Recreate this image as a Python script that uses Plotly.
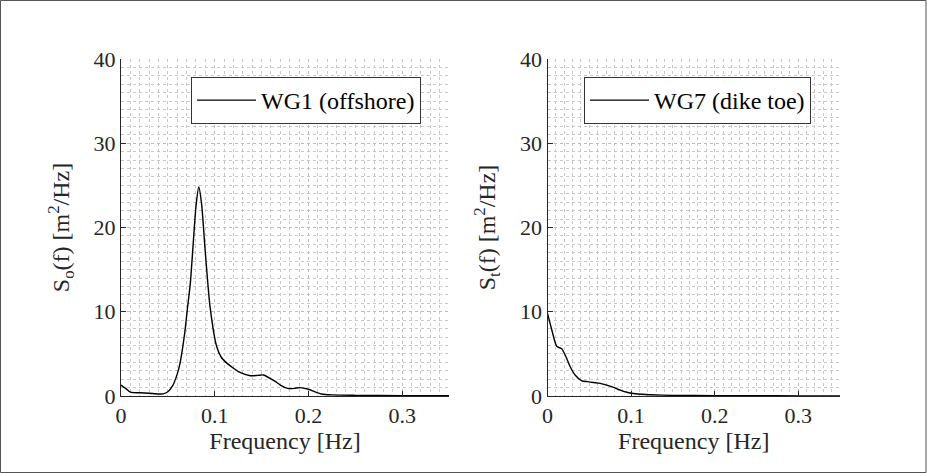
import plotly.graph_objects as go

# ---- data ----
freq_wg1 = [0, 0.005, 0.01, 0.02, 0.03, 0.04, 0.045, 0.05, 0.055, 0.06, 0.063, 0.068, 0.071,
            0.074, 0.077, 0.08, 0.083, 0.086, 0.09, 0.095, 0.102, 0.107, 0.113, 0.12, 0.127,
            0.138, 0.146, 0.152, 0.159, 0.165, 0.17, 0.178, 0.185, 0.191, 0.2, 0.207, 0.214,
            0.225, 0.25, 0.3, 0.35]
spec_wg1 = [1.3, 0.9, 0.45, 0.38, 0.32, 0.24, 0.25, 0.5, 1.2, 2.6, 3.9, 7.5, 10.5,
            13.4, 18.0, 22.5, 24.8, 22.8, 17.0, 10.6, 5.9, 4.6, 3.9, 3.3, 2.8,
            2.4, 2.45, 2.5, 2.1, 1.7, 1.3, 0.9, 0.9, 1.0, 0.8, 0.5, 0.24,
            0.13, 0.08, 0.05, 0.04]

freq_wg7 = [0, 0.005, 0.011, 0.017, 0.021, 0.027, 0.033, 0.041, 0.048, 0.055, 0.063, 0.071,
            0.08, 0.087, 0.095, 0.103, 0.113, 0.123, 0.15, 0.2, 0.25, 0.3, 0.35]
spec_wg7 = [9.8, 7.9, 5.9, 5.6, 4.9, 3.5, 2.5, 1.8, 1.7, 1.6, 1.5, 1.3,
            1.0, 0.7, 0.45, 0.3, 0.2, 0.15, 0.08, 0.04, 0.03, 0.02, 0.02]

name_wg1 = "WG1 (offshore)"
name_wg7 = "WG7 (dike toe)"
ytitle_1 = "S<sub>o</sub>(f) [m<sup>2</sup>/Hz]"
ytitle_2 = "S<sub>t</sub>(f) [m<sup>2</sup>/Hz]"
xtitle = "Frequency [Hz]"
xticks = [0, 0.1, 0.2, 0.3]
yticks = [0, 10, 20, 30, 40]

FONT = "Liberation Serif"
W, H = 927, 473
ML, MR, MT, MB = 121, 87, 59, 77
PW, PH = W - ML - MR, H - MT - MB

fig = go.Figure()
fig.add_trace(go.Scatter(x=freq_wg1, y=spec_wg1, mode="lines", name=name_wg1,
                         line=dict(color="black", width=1.4, shape="spline", smoothing=0.6),
                         xaxis="x", yaxis="y", legend="legend", showlegend=True))
fig.add_trace(go.Scatter(x=freq_wg7, y=spec_wg7, mode="lines", name=name_wg7,
                         line=dict(color="black", width=1.4, shape="spline", smoothing=0.6),
                         xaxis="x2", yaxis="y2", legend="legend2", showlegend=True))

grid = dict(showgrid=True, gridcolor="#bcbcbc", griddash="dot", gridwidth=1)
minor_x = dict(dtick=0.01, showgrid=True, gridcolor="#c8c8c8", griddash="dot", gridwidth=1, ticks="")
minor_y = dict(dtick=1, showgrid=True, gridcolor="#c8c8c8", griddash="dot", gridwidth=1, ticks="")

def xax(domain, anchor):
    return dict(domain=domain, anchor=anchor, range=[0, 0.35], tickvals=xticks,
                ticks="inside", ticklen=5, tickcolor="#262626", showline=True,
                linecolor="#262626", linewidth=1, zeroline=False, mirror=False,
                tickfont=dict(family=FONT, size=22, color="#262626"),
                title=dict(text=xtitle, font=dict(family=FONT, size=24, color="#262626"), standoff=4),
                minor=minor_x, **grid)

def yax(anchor, title):
    return dict(anchor=anchor, domain=[0, 1], range=[0, 40], tickvals=yticks,
                ticks="inside", ticklen=5, tickcolor="#262626", showline=True,
                linecolor="#262626", linewidth=1, zeroline=False, mirror=False,
                tickfont=dict(family=FONT, size=22, color="#262626"),
                title=dict(text=title, font=dict(family=FONT, size=24, color="#262626"), standoff=17),
                minor=minor_y, **grid)

d1 = [0, (449 - ML) / PW]
d2 = [(547.5 - ML) / PW, 1]

def px_x(p):
    return (p - ML) / PW

def px_y(p):
    return (H - MB - p) / PH

leg_common = dict(bgcolor="white", bordercolor="#333333", borderwidth=1,
                  font=dict(family=FONT, size=24, color="black"),
                  xanchor="left", yanchor="top", itemwidth=59)

fig.update_layout(
    width=W, height=H,
    font=dict(family=FONT),
    margin=dict(l=ML, r=MR, t=MT, b=MB),
    paper_bgcolor="white", plot_bgcolor="white",
    xaxis=xax(d1, "y"), yaxis=yax("x", ytitle_1),
    xaxis2=xax(d2, "y2"), yaxis2=yax("x2", ytitle_2),
    legend=dict(x=px_x(191), y=px_y(77), **leg_common),
    legend2=dict(x=px_x(584), y=px_y(77), **leg_common),
    shapes=[dict(type="rect", xref="paper", yref="paper",
                 x0=px_x(0.5), x1=px_x(926), y0=px_y(472.5), y1=px_y(0.5),
                 line=dict(color="#555555", width=1), layer="below")],
)

fig.write_html("out.html")
